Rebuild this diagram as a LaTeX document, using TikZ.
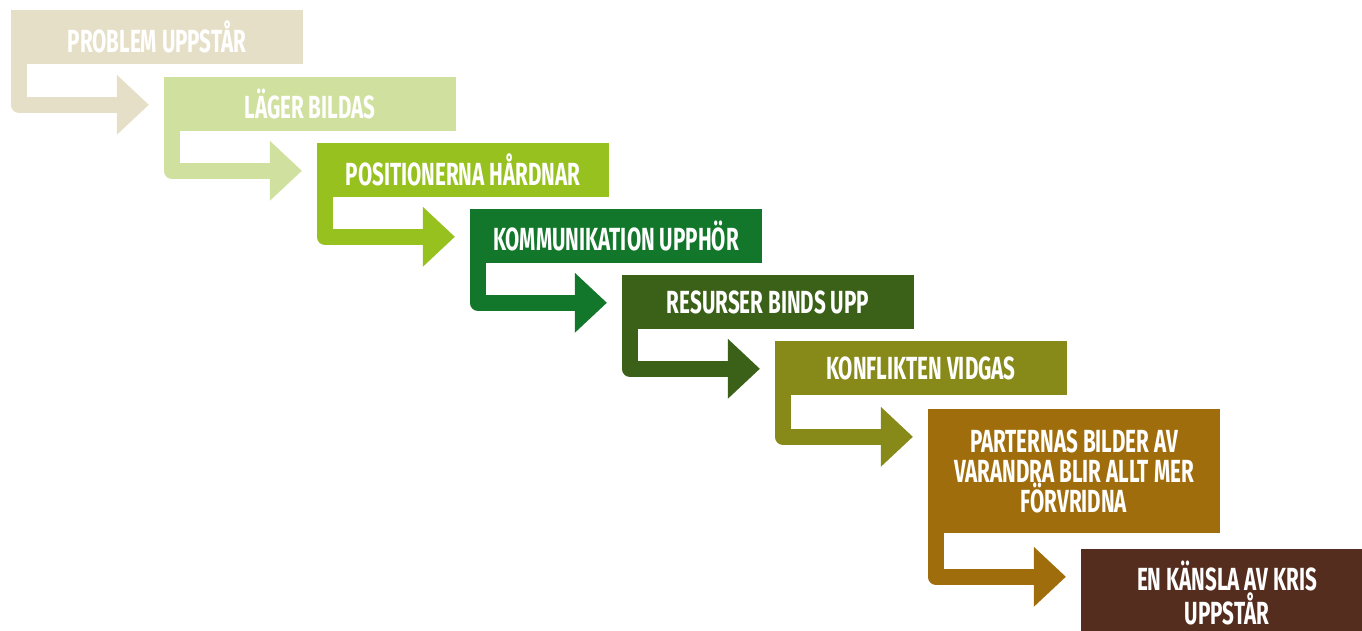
\documentclass[tikz,border=0pt]{standalone}
\usepackage{fontspec}
\setmainfont{Fira Sans}[FakeStretch=0.645]
\definecolor{c1}{HTML}{E6DFC7}
\definecolor{c2}{HTML}{D0E09E}
\definecolor{c3}{HTML}{97C11F}
\definecolor{c4}{HTML}{12772B}
\definecolor{c5}{HTML}{3B6118}
\definecolor{c6}{HTML}{878A18}
\definecolor{c7}{HTML}{A06D0C}
\definecolor{c8}{HTML}{542D1F}
\tikzset{
  stagebox/.style={rectangle, inner sep=0pt, minimum width=292pt, minimum height=54pt,
    text=white, align=center, font=\bfseries\fontsize{32}{30}\selectfont},
  bar/.style={line width=16pt, line join=round, line cap=butt}
}
\newcommand\linkarrow[3]{%
  \draw[bar,#3] ([xshift=8pt]#1.south west) |- ([xshift=-46pt,yshift=-28pt]#2.north west);
  \fill[#3] ([xshift=-47pt,yshift=2pt]#2.north west)
     -- ([xshift=-15pt,yshift=-28pt]#2.north west)
     -- ([xshift=-47pt,yshift=-58pt]#2.north west) -- cycle;}
\begin{document}
\begin{tikzpicture}[x=1pt,y=-1pt]
\path[use as bounding box, clip] (0,0) rectangle (1362,631);
\node[stagebox, fill=c1] (b1) at (157,37) {PROBLEM UPPSTÅR};
\node[stagebox, fill=c2] (b2) at (310,104) {LÄGER BILDAS};
\node[stagebox, fill=c3] (b3) at (463,170) {POSITIONERNA HÅRDNAR};
\node[stagebox, fill=c4] (b4) at (616,236) {KOMMUNIKATION UPPHÖR};
\node[stagebox, fill=c5] (b5) at (768,302) {RESURSER BINDS UPP};
\node[stagebox, fill=c6] (b6) at (921,368) {KONFLIKTEN VIDGAS};
\node[stagebox, fill=c7, minimum height=124pt] (b7) at (1074,471) {PARTERNAS BILDER AV\\VARANDRA BLIR ALLT MER\\FÖRVRIDNA};
\node[stagebox, fill=c8, minimum height=88pt] (b8) at (1227,593) {EN KÄNSLA AV KRIS\\UPPSTÅR};
\linkarrow{b1}{b2}{c1}
\linkarrow{b2}{b3}{c2}
\linkarrow{b3}{b4}{c3}
\linkarrow{b4}{b5}{c4}
\linkarrow{b5}{b6}{c5}
\linkarrow{b6}{b7}{c6}
\linkarrow{b7}{b8}{c7}
\end{tikzpicture}
\end{document}
